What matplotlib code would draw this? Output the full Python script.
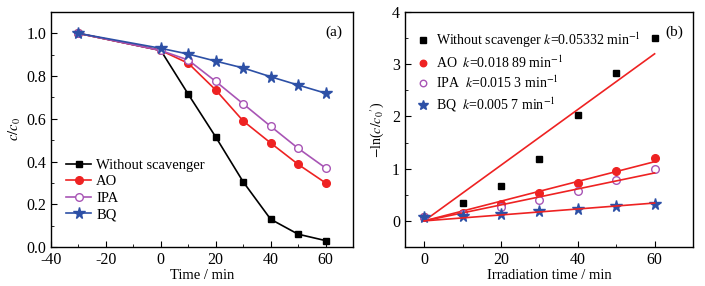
import numpy as np
import matplotlib
matplotlib.use("Agg")
import matplotlib.pyplot as plt
from matplotlib.ticker import MultipleLocator

plt.rcParams["font.family"] = ["Liberation Serif", "DejaVu Serif"]
plt.rcParams["mathtext.fontset"] = "stix"
plt.rcParams["font.size"] = 10.5
plt.rcParams["axes.unicode_minus"] = False

# panel (a): c/c0 vs time
time_a = [-30, 0, 10, 20, 30, 40, 50, 60]
none_a = [1.0, 0.92, 0.715, 0.515, 0.305, 0.13, 0.06, 0.03]
ao_a = [1.0, 0.92, 0.86, 0.735, 0.59, 0.487, 0.387, 0.30]
ipa_a = [1.0, 0.92, 0.875, 0.775, 0.67, 0.565, 0.462, 0.37]
bq_a = [1.0, 0.93, 0.903, 0.87, 0.838, 0.797, 0.758, 0.72]

# panel (b): -ln(c/c0') vs irradiation time
time_b = [0, 10, 20, 30, 40, 50, 60]
none_b = [0.08, 0.34, 0.67, 1.19, 2.03, 2.84, 3.51]
ao_b = [0.08, 0.16, 0.33, 0.53, 0.72, 0.95, 1.20]
ipa_b = [0.08, 0.13, 0.26, 0.40, 0.58, 0.78, 0.99]
bq_b = [0.08, 0.10, 0.14, 0.18, 0.23, 0.28, 0.33]
k_vals = [0.05332, 0.01889, 0.0153, 0.0057]

labels_a = ["Without scavenger", "AO", "IPA", "BQ"]
labels_b = [r"Without scavenger $k$=0.05332 min$^{-1}$",
            r"AO  $k$=0.018 89 min$^{-1}$",
            r"IPA  $k$=0.015 3 min$^{-1}$",
            r"BQ  $k$=0.005 7 min$^{-1}$"]

colors = ["black", "#ee2222", "#a855b5", "#2d50a6"]
markers = ["s", "o", "o", "*"]
faces = ["black", "#ee2222", "white", "#2d50a6"]
sizes = [5, 5.5, 5.5, 8.5]

fig = plt.figure(figsize=(7.05, 2.86), dpi=100)
ax1 = fig.add_axes([51 / 705, 39 / 286, 302 / 705, 235 / 286])
ax2 = fig.add_axes([405 / 705, 39 / 286, 288 / 705, 235 / 286])

for ys, lab, c, m, fc, s in zip([none_a, ao_a, ipa_a, bq_a], labels_a, colors, markers, faces, sizes):
    ax1.plot(time_a, ys, color=c, marker=m, mfc=fc, mec=c, ms=s, lw=1.2, label=lab)

ax1.set_xlim(-40, 70)
ax1.set_ylim(0, 1.1)
ax1.set_xticks([-40, -20, 0, 20, 40, 60])
ax1.xaxis.set_minor_locator(MultipleLocator(10))
ax1.set_yticks([0, 0.2, 0.4, 0.6, 0.8, 1.0])
ax1.yaxis.set_minor_locator(MultipleLocator(0.1))
ax1.yaxis.set_major_formatter(plt.FormatStrFormatter("%.1f"))
ax1.set_xlabel("Time / min", labelpad=1)
ax1.set_ylabel(r"$c/c_0$", labelpad=2)
ax1.text(0.965, 0.9, "(a)", transform=ax1.transAxes, ha="right", fontsize=11)
ax1.legend(loc="lower left", bbox_to_anchor=(0.017, 0.067), frameon=False,
           handlelength=1.7, handletextpad=0.35, labelspacing=0.22, borderaxespad=0.3)

fit_x = np.array([0, 60])
for ys, lab, c, m, fc, s, k in zip([none_b, ao_b, ipa_b, bq_b], labels_b, colors, markers, faces, sizes, k_vals):
    ax2.plot(time_b, ys, ls="none", marker=m, mfc=fc, mec=c, ms=s, label=lab)
    ax2.plot(fit_x, k * fit_x, color="#ee2222", lw=1.2)

ax2.set_xlim(-5, 70)
ax2.set_ylim(-0.5, 4)
ax2.set_xticks([0, 20, 40, 60])
ax2.xaxis.set_minor_locator(MultipleLocator(10))
ax2.set_yticks([0, 1, 2, 3, 4])
ax2.yaxis.set_minor_locator(MultipleLocator(0.5))
ax2.set_xlabel("Irradiation time / min", labelpad=1)
ax2.set_ylabel(r"$-$ln($c/c_0$$'$)", labelpad=4, fontsize=10)
ax2.text(0.965, 0.9, "(b)", transform=ax2.transAxes, ha="right", fontsize=11)
ax2.legend(loc="upper left", bbox_to_anchor=(0.025, 0.945), frameon=False, fontsize=10,
           handlelength=0.8, handletextpad=0.5, labelspacing=0.3, borderaxespad=0.0,
           markerscale=0.85)

for ax in (ax1, ax2):
    ax.tick_params(which="both", direction="in", top=False, right=False, labelsize=11.5)
    ax.tick_params(which="major", length=4)
    ax.tick_params(which="minor", length=2)
    for sp in ax.spines.values():
        sp.set_linewidth(1.0)

fig.savefig("out.png", dpi=100)
